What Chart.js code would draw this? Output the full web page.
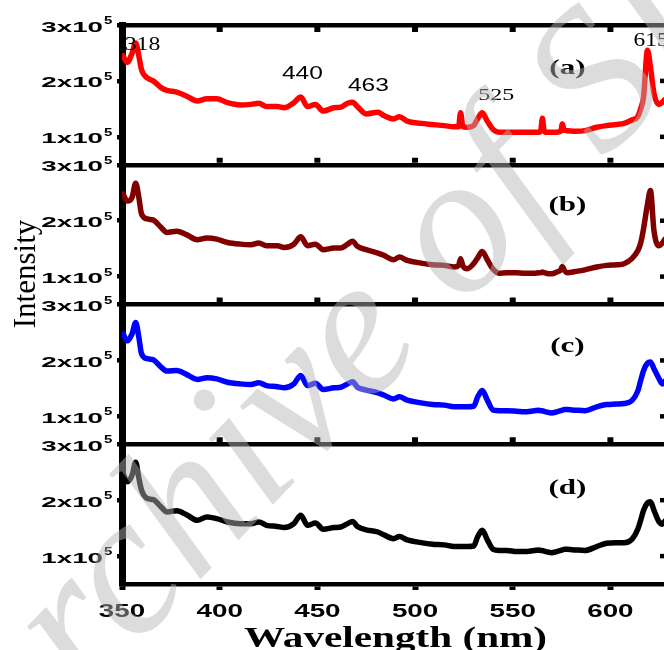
<!DOCTYPE html>
<html>
<head>
<meta charset="utf-8">
<title>Emission spectra</title>
<script src="https://cdn.jsdelivr.net/npm/chart.js@4.4.1/dist/chart.umd.min.js"></script>
<style>
html, body { margin: 0; padding: 0; overflow: hidden; background: #fff; }
canvas { display: block; }
</style>
</head>
<body>
<canvas id="spectra" width="680" height="650"></canvas>
<script>
// wavelength in nm, intensities in units of 10^5 counts
var wavelength = [
	350.5, 352.7, 355.2, 357, 358.6, 360, 363, 366, 370, 373,
	378, 383, 388.5, 393.5, 398.5, 404, 410.5, 416, 420, 424,
	429.5, 433, 438, 441.5, 445, 449, 453, 458.5, 462, 465.5,
	468, 470.5, 475, 481, 484, 489, 492, 496, 503, 509,
	515, 520, 522.3, 523.3, 524.5, 526.8, 530, 532, 534.4, 537,
	540, 543, 547, 552, 556, 561, 563.5, 564.4, 565.2, 566,
	567, 570, 572.5, 574.6, 575.4, 576.4, 578, 582, 587, 593,
	598, 603, 607, 611, 614, 615.5, 617, 619, 620.5, 622.3,
	624.8, 626.6, 628, 630
];
var intensityA = [
	2.45, 2.33, 2.50, 2.68, 2.45, 2.20, 2.05, 2.00, 1.88, 1.83,
	1.80, 1.73, 1.64, 1.68, 1.68, 1.61, 1.57, 1.58, 1.60, 1.54,
	1.54, 1.52, 1.61, 1.71, 1.54, 1.58, 1.46, 1.52, 1.53, 1.60,
	1.62, 1.54, 1.41, 1.44, 1.38, 1.32, 1.36, 1.28, 1.24, 1.22,
	1.20, 1.18, 1.18, 1.43, 1.18, 1.17, 1.20, 1.32, 1.43, 1.28,
	1.13, 1.08, 1.08, 1.08, 1.08, 1.08, 1.08, 1.12, 1.33, 1.12,
	1.08, 1.08, 1.08, 1.10, 1.23, 1.12, 1.11, 1.10, 1.11, 1.17,
	1.20, 1.22, 1.24, 1.30, 1.36, 1.50, 1.72, 2.55, 2.25, 1.78,
	1.58, 1.62, 1.67, 1.70
];
var intensityB = [
	2.48, 2.35, 2.42, 2.67, 2.42, 2.12, 2.03, 2.01, 1.88, 1.79,
	1.81, 1.75, 1.66, 1.69, 1.67, 1.61, 1.58, 1.57, 1.60, 1.55,
	1.55, 1.52, 1.58, 1.71, 1.55, 1.58, 1.48, 1.51, 1.51, 1.58,
	1.63, 1.54, 1.48, 1.42, 1.38, 1.30, 1.35, 1.29, 1.24, 1.21,
	1.20, 1.17, 1.20, 1.32, 1.19, 1.14, 1.23, 1.33, 1.45, 1.30,
	1.13, 1.06, 1.07, 1.07, 1.06, 1.06, 1.07, 1.07, 1.08, 1.07,
	1.06, 1.05, 1.08, 1.12, 1.18, 1.11, 1.07, 1.09, 1.12, 1.17,
	1.20, 1.21, 1.23, 1.32, 1.46, 1.60, 1.86, 2.30, 2.54, 1.82,
	1.55, 1.60, 1.67, 1.70
];
var intensityC = [
	2.48, 2.35, 2.48, 2.68, 2.42, 2.12, 2.03, 2.01, 1.88, 1.81,
	1.82, 1.75, 1.66, 1.69, 1.67, 1.61, 1.58, 1.57, 1.60, 1.55,
	1.53, 1.51, 1.58, 1.73, 1.55, 1.59, 1.48, 1.51, 1.52, 1.58,
	1.62, 1.52, 1.47, 1.42, 1.38, 1.31, 1.35, 1.29, 1.24, 1.21,
	1.20, 1.17, 1.17, 1.17, 1.17, 1.17, 1.18, 1.34, 1.46, 1.29,
	1.11, 1.10, 1.10, 1.09, 1.08, 1.10, 1.11, 1.10, 1.10, 1.09,
	1.08, 1.06, 1.08, 1.10, 1.11, 1.12, 1.12, 1.11, 1.10, 1.17,
	1.21, 1.22, 1.23, 1.28, 1.45, 1.64, 1.82, 1.95, 1.97, 1.85,
	1.68, 1.58, 1.63, 1.66
];
var intensityD = [
	2.48, 2.33, 2.45, 2.68, 2.40, 2.18, 2.03, 2.01, 1.88, 1.79,
	1.81, 1.74, 1.64, 1.70, 1.67, 1.61, 1.58, 1.58, 1.61, 1.55,
	1.53, 1.51, 1.58, 1.73, 1.55, 1.59, 1.48, 1.51, 1.52, 1.58,
	1.62, 1.53, 1.47, 1.43, 1.38, 1.31, 1.35, 1.29, 1.24, 1.21,
	1.20, 1.17, 1.17, 1.17, 1.17, 1.17, 1.18, 1.34, 1.46, 1.29,
	1.12, 1.10, 1.10, 1.08, 1.08, 1.10, 1.11, 1.10, 1.10, 1.09,
	1.08, 1.06, 1.08, 1.10, 1.11, 1.12, 1.12, 1.11, 1.10, 1.17,
	1.23, 1.24, 1.24, 1.30, 1.48, 1.64, 1.82, 1.95, 1.97, 1.82,
	1.62, 1.57, 1.63, 1.66
];
var xTicks = [350, 400, 450, 500, 550, 600];
var yTicks = [1, 2, 3];
var panelNames = ['(a)', '(b)', '(c)', '(d)'];
var peakTags = ['318', '440', '463', '525', '615'];

var lineColors = ['#ff0000', '#800000', '#0000ff', '#000000'];
var panelIds = ['ya', 'yb', 'yc', 'yd'];

function toPoints(ys) {
	return ys.map(function (v, i) { return { x: wavelength[i], y: v }; });
}

// text squeezed/stretched horizontally like the original figure lettering
function wideText(ctx, text, x, y, font, sx, align) {
	ctx.save();
	ctx.font = font;
	ctx.textAlign = align || 'center';
	ctx.textBaseline = 'alphabetic';
	ctx.fillStyle = '#000';
	ctx.translate(x, y);
	ctx.scale(sx, 1);
	ctx.fillText(text, 0, 0);
	ctx.restore();
}

var SANS = '"Liberation Sans", Arial, sans-serif';
var SERIF = '"Liberation Serif", "Times New Roman", serif';

var panelScale = function (i) {
	return {
		type: 'linear',
		position: 'left',
		stack: 'spectra',
		stackWeight: 1,
		weight: 4 - i,
		min: 0.5,
		max: 3,
		ticks: { stepSize: 1, includeBounds: false, display: false },
		grid: {
			color: function (c) { return c.tick && c.tick.value === 3 ? '#000' : 'rgba(0,0,0,0)'; },
			lineWidth: 4.5,
			drawTicks: true,
			tickLength: 5,
			tickWidth: 4.5,
			tickColor: '#000'
		},
		border: { display: true, color: '#000', width: 7 },
		afterFit: function (s) { s.width = 122; }
	};
};

var decorations = {
	id: 'decorations',
	afterDatasetsDraw: function (chart) {
		var ctx = chart.ctx;
		var xs = chart.scales.x;
		var area = chart.chartArea;

		ctx.save();
		ctx.fillStyle = '#000';
		panelIds.forEach(function (id, p) {
			var ys = chart.scales[id];
			// inner tick marks along the panel edges
			xTicks.forEach(function (v) {
				if (v === xs.min) return;
				var px = xs.getPixelForValue(v);
				if (p === 0) ctx.fillRect(px - 3, ys.top + 2, 6, 5);
				if (p < 3) ctx.fillRect(px - 3, ys.bottom - 7, 6, 5);
			});
			yTicks.forEach(function (v) {
				var py = ys.getPixelForValue(v);
				if (v < 3) ctx.fillRect(area.right - 9, py - 2.2, 9, 4.5);
				wideText(ctx, v + 'x10', 103, py + 6.5, 'bold 15px ' + SANS, 1.85, 'right');
				wideText(ctx, '5', 104, py - 1, 'bold 10px ' + SANS, 1.5, 'left');
			});
		});
		ctx.restore();

		xTicks.forEach(function (v) {
			wideText(ctx, String(v), xs.getPixelForValue(v), 616.5, 'bold 18.5px ' + SANS, 1.5);
		});
		wideText(ctx, 'Wavelength (nm)', (area.left + area.right) / 2, 647, 'bold 29px ' + SERIF, 1.42);

		ctx.save();
		ctx.translate(35, 274);
		ctx.rotate(-Math.PI / 2);
		ctx.font = '31px ' + SERIF;
		ctx.textAlign = 'center';
		ctx.fillStyle = '#000';
		ctx.fillText('Intensity', 0, 0);
		ctx.restore();

		// peak tags on the top spectrum
		var ya = chart.scales.ya;
		var tagAt = [[360.5, 2.68, SERIF, 19.5, 1.22], [442.3, 2.14, SANS, 17.5, 1.4], [476.1, 1.93, SANS, 17.5, 1.4],
			[541.6, 1.75, SERIF, 16, 1.5], [620.8, 2.73, SERIF, 18, 1.3]];
		peakTags.forEach(function (t, i) {
			var a = tagAt[i];
			var font = a[3] + 'px ' + a[2];
			wideText(ctx, t, xs.getPixelForValue(a[0]), ya.getPixelForValue(a[1]) + a[3] * 0.34, font, a[4]);
		});

		var nameY = [2.25, 2.30, 2.28, 2.24];
		panelNames.forEach(function (n, p) {
			var ys = chart.scales[panelIds[p]];
			wideText(ctx, n, xs.getPixelForValue(578), ys.getPixelForValue(nameY[p]) + 7, 'bold 21px ' + SERIF, 1.48);
		});
	},
	afterDraw: function (chart) {
		// archive watermark laid over the whole figure
		var ctx = chart.ctx;
		ctx.save();
		ctx.translate(0, 787);
		ctx.rotate(-46 * Math.PI / 180);
		ctx.font = 'italic 200px ' + SERIF;
		ctx.fillStyle = 'rgba(181,181,181,0.47)';
		ctx.fillText('Archive of SID', 0, 0);
		ctx.restore();
	}
};

var series = [intensityA, intensityB, intensityC, intensityD];
var scales = {
	x: {
		type: 'linear',
		position: 'bottom',
		min: 350,
		max: 630,
		ticks: { stepSize: 50, includeBounds: false, display: false },
		grid: { drawOnChartArea: false, drawTicks: true, tickLength: 6, tickWidth: 6, tickColor: '#000' },
		border: { display: true, color: '#000', width: 4.5 },
		afterFit: function (s) { s.height = 66; }
	}
};
panelIds.forEach(function (id, i) { scales[id] = panelScale(i); });

var chart = new Chart(document.getElementById('spectra').getContext('2d'), {
	type: 'line',
	data: {
		datasets: series.map(function (ys, i) {
			return {
				label: panelNames[i],
				data: toPoints(ys),
				yAxisID: panelIds[i],
				borderColor: lineColors[i],
				borderWidth: 5.5,
				borderJoinStyle: 'round',
				borderCapStyle: 'round',
				pointRadius: 0,
				fill: false,
				cubicInterpolationMode: 'monotone'
			};
		})
	},
	options: {
		responsive: false,
		animation: false,
		layout: { padding: { top: 25, right: 11, left: 0, bottom: 0 } },
		plugins: { legend: { display: false }, tooltip: { enabled: false } },
		scales: scales
	},
	plugins: [decorations]
});
</script>
</body>
</html>
